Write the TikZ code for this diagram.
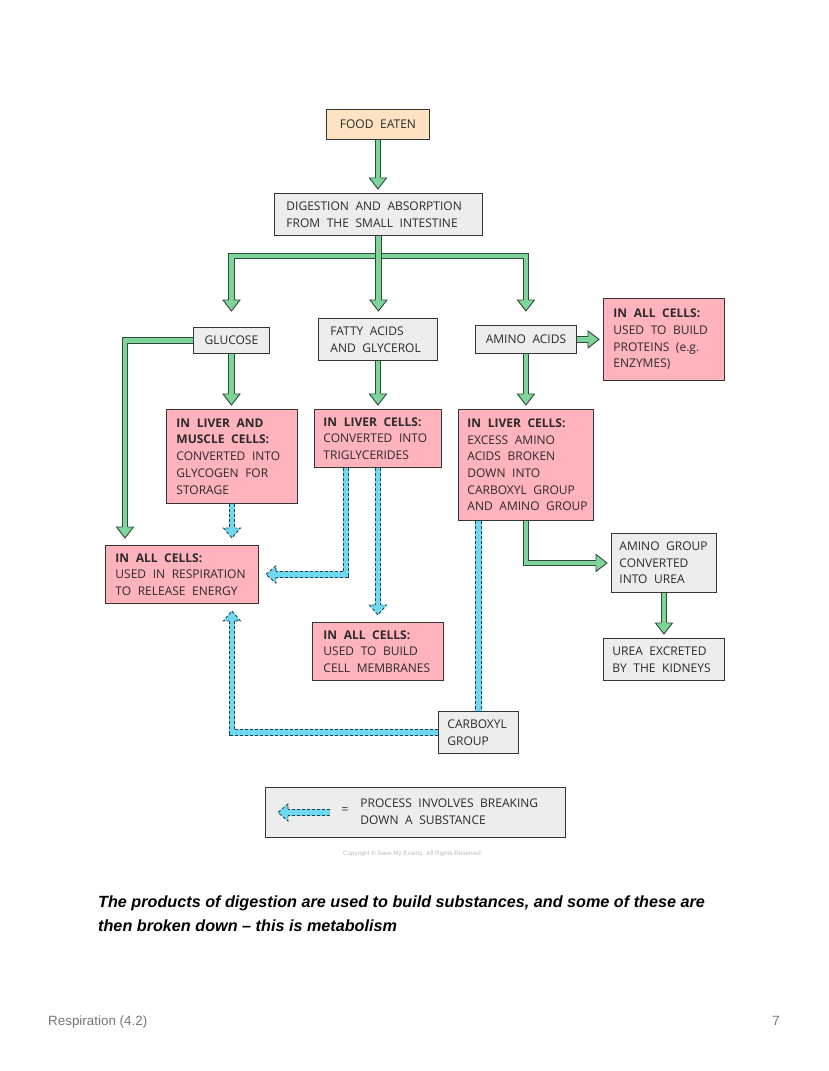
\documentclass[tikz,border=0pt]{standalone}
\usepackage{fontspec}
\setmainfont{Liberation Sans}
\newfontfamily\boxfont[WordSpace=2.2]{Open Sans}
\usetikzlibrary{calc}
\definecolor{ink}{HTML}{353535}
\definecolor{txt}{HTML}{2A2A2A}
\definecolor{pinkfill}{HTML}{FFB3BD}
\definecolor{grayfill}{HTML}{EDEDED}
\definecolor{orangefill}{HTML}{FDE3C1}
\definecolor{gfill}{HTML}{7ED59A}
\definecolor{gdark}{HTML}{2F4A38}
\definecolor{bfill}{HTML}{6FD9F2}
\definecolor{bdark}{HTML}{1F3F4F}
\definecolor{footgray}{HTML}{777777}
\definecolor{copygray}{HTML}{BBBBBB}
\tikzset{
  box/.style={draw=ink, line width=0.9pt, inner sep=0pt, anchor=north west,
    font=\boxfont\fontsize{12}{16.7}\selectfont, text=txt,
    execute at begin node={\spaceskip=6.6pt plus 1pt minus 0.5pt\relax}},
  pinkbox/.style={box, fill=pinkfill, align=left},
  graybox/.style={box, fill=grayfill, align=left},
  gshaft/.style={line width=4.8pt, draw=gfill, line join=miter,
    preaction={draw=gdark, line width=6.6pt, line join=miter}},
  bshaft/.style={line width=4.8pt, draw=bfill, line join=miter,
    preaction={draw=bfill, line width=6.6pt, line join=miter},
    preaction={draw=bdark, line width=6.6pt, line join=miter, dash pattern=on 3pt off 2pt}},
  ghead/.pic={
    \fill[gfill] (0,0) -- (-11,8.5) -- (-11,-8.5) -- cycle;
    \draw[gdark, line width=0.9pt, line join=miter] (-11,2.9) -- (-11,8.5) -- (0,0) -- (-11,-8.5) -- (-11,-2.9);
  },
  bhead/.pic={
    \fill[bfill] (0,0) -- (-10,8.5) -- (-10,-8.5) -- cycle;
    \draw[bdark, line width=0.9pt, line join=miter, dash pattern=on 3pt off 2pt] (-10,3.3) -- (-10,8.5) -- (0,0) -- (-10,-8.5) -- (-10,-3.3);
  }
}
\begin{document}
\begin{tikzpicture}[x=1pt, y=-1pt]
\fill[white] (0,0) rectangle (828,1071);
\useasboundingbox (0,0) rectangle (828,1071);

% ---------- boxes ----------
\node[graybox, fill=orangefill, align=center, minimum width=103, minimum height=30] (food) at (326,109) {FOOD EATEN};
\node[graybox, text width=184, minimum width=208, minimum height=42] (dig) at (274,193) {\mbox{DIGESTION AND ABSORPTION}\\\mbox{FROM THE SMALL INTESTINE}};
\node[graybox, align=center, minimum width=76, minimum height=26] (glu) at (193,327) {GLUCOSE};
\node[graybox, text width=95, minimum width=119, minimum height=42] (fat) at (318,318) {FATTY ACIDS\\AND GLYCEROL};
\node[graybox, align=center, minimum width=101, minimum height=28] (ami) at (475,325) {AMINO ACIDS};
\node[pinkbox, text width=101, minimum width=121, minimum height=82] (prot) at (603,298) {\textbf{IN ALL CELLS:}\\USED TO BUILD\\PROTEINS (e.g.\\ENZYMES)};
\node[pinkbox, text width=111, minimum width=131, minimum height=94] (lm) at (166,409) {\textbf{IN LIVER AND}\\\textbf{MUSCLE CELLS:}\\CONVERTED INTO\\GLYCOGEN FOR\\STORAGE};
\node[pinkbox, text width=109, minimum width=127, minimum height=58] (tri) at (314,409) {\textbf{IN LIVER CELLS:}\\\mbox{CONVERTED INTO}\\TRIGLYCERIDES};
\node[pinkbox, text width=117, minimum width=135, minimum height=111] (liv) at (458,409) {\textbf{IN LIVER CELLS:}\\EXCESS AMINO\\ACIDS BROKEN\\DOWN INTO\\\mbox{CARBOXYL GROUP}\\\mbox{AND AMINO GROUP}};
\node[pinkbox, text width=133, minimum width=153, minimum height=58] (resp) at (105,545) {\textbf{IN ALL CELLS:}\\\mbox{USED IN RESPIRATION}\\\mbox{TO RELEASE ENERGY}};
\node[pinkbox, text width=109, minimum width=131, minimum height=58] (memb) at (312,622) {\textbf{IN ALL CELLS:}\\USED TO BUILD\\\mbox{CELL MEMBRANES}};
\node[graybox, text width=89, minimum width=105, minimum height=59] (conv) at (611,533) {\mbox{AMINO GROUP}\\CONVERTED\\INTO UREA};
\node[graybox, text width=103, minimum width=121, minimum height=42] (excr) at (603,638) {\mbox{UREA EXCRETED}\\\mbox{BY THE KIDNEYS}};
\node[graybox, text width=62, minimum width=80, minimum height=42] (carb) at (438,711) {CARBOXYL\\GROUP};

% ---------- legend ----------
\node[graybox, minimum width=300, minimum height=50] (leg) at (265,787) {};
\node[box, draw=none, anchor=west, align=left] (legtext) at (360,812) {PROCESS INVOLVES BREAKING\\DOWN A SUBSTANCE};
\node[box, draw=none, anchor=center] (eq) at (345,811) {=};
\coordinate (la) at ($(leg.west)+(65,0)$);
\coordinate (lt) at ($(leg.west)+(13,0)$);
\draw[bshaft] (la) -- ($(lt)+(10,0)$);
\pic[rotate=180] at (lt) {bhead};

% ---------- green connectors ----------
\coordinate (tipy) at (0,311);
\coordinate (bar) at (377,256);
\coordinate (h1) at ($(food.south |- dig.north)+(0,-4)$);
\coordinate (hg) at (glu.north |- tipy);
\coordinate (hf) at (dig.south |- tipy);
\coordinate (ha) at (ami.north |- tipy);
\coordinate (h3) at ($(resp.north west)+(20,-7)$);
\coordinate (h4) at ($(glu.south |- lm.north)+(0,-4)$);
\coordinate (h5) at ($(fat.south |- tri.north)+(0,-4)$);
\coordinate (h6) at ($(ami.east -| prot.west)+(-4,0)$);
\coordinate (h7) at ($(ami.south |- liv.north)+(0,-4)$);
\coordinate (h8) at ($(conv.west)+(-4,0)$);
\coordinate (h9) at ($(conv.south |- excr.north)+(0,-4)$);

\draw[gshaft] (food.south) -- ($(h1)+(0,-11)$);
\draw[gshaft] ($(hg)+(0,-11)$) |- (bar) -| ($(ha)+(0,-11)$);
\draw[gshaft] (dig.south) -- ($(hf)+(0,-11)$);
\draw[gshaft] (glu.west) -| ($(h3)+(0,-11)$);
\draw[gshaft] (glu.south) -- ($(h4)+(0,-11)$);
\draw[gshaft] (fat.south) -- ($(h5)+(0,-11)$);
\draw[gshaft] (ami.east) -- ($(h6)+(-11,0)$);
\draw[gshaft] (ami.south) -- ($(h7)+(0,-11)$);
\draw[gshaft] (liv.south) |- ($(h8)+(-11,0)$);
\draw[gshaft] (conv.south) -- ($(h9)+(0,-11)$);
\foreach \h in {h1,hg,hf,ha,h3,h4,h5,h7,h9} {\pic[rotate=-90] at (\h) {ghead};}
\pic at (h6) {ghead};
\pic at (h8) {ghead};

% ---------- blue connectors ----------
\coordinate (b1) at (lm.south |- h3);
\coordinate (t1) at ($(tri.south west)+(32,0)$);
\coordinate (b2) at ($(resp.east)+(7,0)$);
\coordinate (b3) at ($(tri.south |- memb.north)+(0,-7)$);
\coordinate (b5) at ($(lm.south |- resp.south)+(0,7)$);
\draw[bshaft] (lm.south) -- ($(b1)+(0,-10)$);
\draw[bshaft] (t1) |- ($(b2)+(10,0)$);
\draw[bshaft] (tri.south) -- ($(b3)+(0,-10)$);
\draw[bshaft] (liv.south -| carb.north) -- (carb.north);
\draw[bshaft] (carb.west) -| ($(b5)+(0,10)$);
\pic[rotate=-90] at (b1) {bhead};
\pic[rotate=180] at (b2) {bhead};
\pic[rotate=-90] at (b3) {bhead};
\pic[rotate=90] at (b5) {bhead};

% ---------- texts ----------
\node[font=\fontsize{6.2}{7}\selectfont, text=copygray, inner sep=0] (copy) at (412,854) {Copyright © Save My Exams. All Rights Reserved};
\node[anchor=base west, inner sep=0, font=\fontsize{16.2}{24}\selectfont\bfseries\itshape] (cap1) at (98,907) {The products of digestion are used to build substances, and some of these are};
\node[anchor=base west, inner sep=0, font=\fontsize{16.2}{24}\selectfont\bfseries\itshape] (cap2) at (98,931) {then broken down – this is metabolism};
\node[anchor=base west, inner sep=0, font=\fontsize{13.4}{16}\selectfont, text=footgray] (foot) at (48,1025) {Respiration (4.2)};
\node[anchor=base east, inner sep=0, font=\fontsize{13.4}{16}\selectfont, text=footgray] (page) at (780,1025) {7};
\end{tikzpicture}
\end{document}
